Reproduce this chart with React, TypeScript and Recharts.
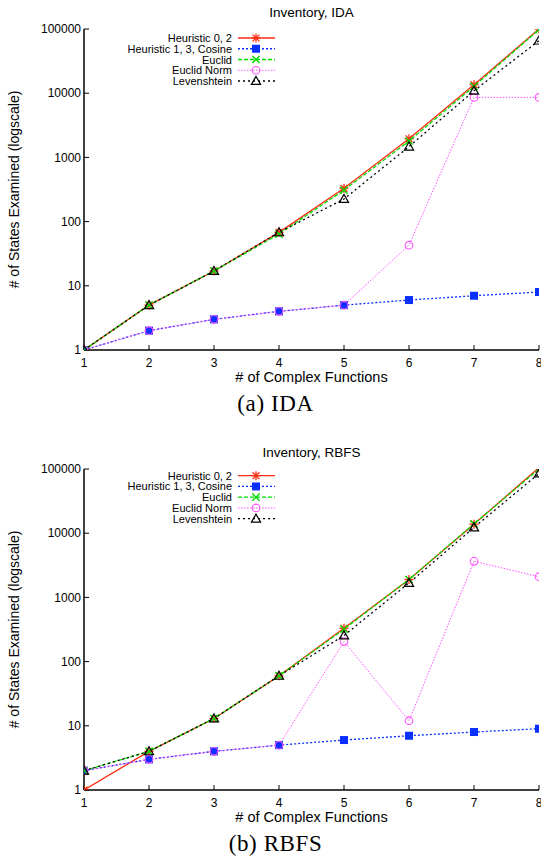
import React from 'react';
import { LineChart, Line, XAxis, YAxis, Legend } from 'recharts';

const xValues = [1, 2, 3, 4, 5, 6, 7, 8];
const xTicks = [1, 2, 3, 4, 5, 6, 7, 8];
const yMajorTicks = [1, 10, 100, 1000, 10000, 100000];
const yMinorTicks = [2, 5, 20, 50, 200, 500, 2000, 5000, 20000, 50000];

// (a) IDA
const idaHeuristic02 = [1, 5, 17, 68, 330, 1950, 13500, 100000];
const idaHeuristic13 = [1, 2, 3, 4, 5, 6, 7, 8];
const idaEuclid = [1, 5, 17, 64, 310, 1800, 12800, 98000];
const idaEuclidNorm = [1, 2, 3, 4, 5, 43, 8600, 8600];
const idaLevenshtein = [1, 5, 17, 68, 225, 1470, 10900, 66000];

// (b) RBFS
const rbfsHeuristic02 = [1, 4, 13, 60, 330, 1900, 13800, 105000];
const rbfsHeuristic13 = [2, 3, 4, 5, 6, 7, 8, 9];
const rbfsEuclid = [2, 4, 13, 60, 320, 1900, 14000, 100000];
const rbfsEuclidNorm = [2, 3, 4, 5, 205, 12, 3650, 2100];
const rbfsLevenshtein = [2, 4, 13, 60, 255, 1680, 12300, 85000];

const seriesKeys = ['h02', 'h13', 'euclid', 'norm', 'lev'];
const seriesLabels = ['Heuristic 0, 2', 'Heuristic 1, 3, Cosine', 'Euclid', 'Euclid Norm', 'Levenshtein'];
const seriesColors = ['#ff2a10', '#0a30ff', '#00dd00', '#ff50ff', '#000000'];
const seriesDash = ['', '2 2', '4 2', '1.5 1.5', '2 3'];
const seriesWidth = [1.3, 1.3, 1.3, 1, 1.3];
const seriesMarker = ['asterisk', 'square', 'cross', 'circle', 'triangle'];

const X_LABEL = '# of Complex Functions';
const Y_LABEL = '# of States Examined (logscale)';
const SANS = '"Liberation Sans", Arial, Helvetica, sans-serif';

function buildRows(a: number[], b: number[], c: number[], d: number[], e: number[]) {
  return xValues.map((x, i) => ({ x, h02: a[i], h13: b[i], euclid: c[i], norm: d[i], lev: e[i] }));
}

const idaData = buildRows(idaHeuristic02, idaHeuristic13, idaEuclid, idaEuclidNorm, idaLevenshtein);
const rbfsData = buildRows(rbfsHeuristic02, rbfsHeuristic13, rbfsEuclid, rbfsEuclidNorm, rbfsLevenshtein);

function Marker({ kind, cx, cy, color }: { kind: string; cx: number; cy: number; color: string }) {
  if (cx == null || cy == null || isNaN(cx) || isNaN(cy)) return <g />;
  switch (kind) {
    case 'asterisk': {
      const r = 4.5;
      const d = 3.4;
      return (
        <g stroke={color} strokeWidth={1.3} fill="none">
          <line x1={cx - r} y1={cy} x2={cx + r} y2={cy} />
          <line x1={cx} y1={cy - r} x2={cx} y2={cy + r} />
          <line x1={cx - d} y1={cy - d} x2={cx + d} y2={cy + d} />
          <line x1={cx - d} y1={cy + d} x2={cx + d} y2={cy - d} />
        </g>
      );
    }
    case 'square':
      return <rect x={cx - 4} y={cy - 4} width={8} height={8} fill={color} stroke="none" />;
    case 'cross': {
      const d = 3.6;
      return (
        <g stroke={color} strokeWidth={1.4} fill="none">
          <line x1={cx - d} y1={cy - d} x2={cx + d} y2={cy + d} />
          <line x1={cx - d} y1={cy + d} x2={cx + d} y2={cy - d} />
        </g>
      );
    }
    case 'circle':
      return <circle cx={cx} cy={cy} r={3.8} fill="none" stroke={color} strokeWidth={1.1} />;
    case 'triangle':
    default:
      return (
        <polygon
          points={`${cx},${cy - 4.6} ${cx - 4.6},${cy + 3.4} ${cx + 4.6},${cy + 3.4}`}
          fill="none"
          stroke={color}
          strokeWidth={1.2}
        />
      );
  }
}

function makeLegend(rowTop: number) {
  return () => (
    <svg width={300} height={100} style={{ display: 'block' }}>
      {seriesLabels.map((label, i) => {
        const y = rowTop + i * 10.75;
        return (
          <g key={label}>
            <text x={232} y={y} textAnchor="end" dominantBaseline="central" fontSize={11} fontFamily={SANS} fill="#000">
              {label}
            </text>
            <line
              x1={238}
              x2={275}
              y1={y}
              y2={y}
              stroke={seriesColors[i]}
              strokeWidth={seriesWidth[i]}
              strokeDasharray={seriesDash[i] || undefined}
            />
            <Marker kind={seriesMarker[i]} cx={256} cy={y} color={seriesColors[i]} />
          </g>
        );
      })}
    </svg>
  );
}

function Panel({ title, caption, data, legendTop }: { title: string; caption: string; data: any[]; legendTop: number }) {
  const plotCenterY = (29 + 350) / 2;
  return (
    <div style={{ position: 'relative', width: 541, height: 440 }}>
      <div style={{ position: 'absolute', left: 0, top: 0, width: 541, height: 384, overflow: 'hidden' }}>
        <LineChart width={541} height={384} data={data} margin={{ top: 29, right: 2, bottom: 0, left: 0 }}>
          <XAxis
            xAxisId="b"
            dataKey="x"
            type="number"
            domain={[1, 8]}
            ticks={xTicks}
            interval={0}
            allowDataOverflow
            height={34}
            axisLine={{ stroke: '#000', strokeWidth: 1.5 }}
            tickLine={{ stroke: '#000', strokeWidth: 1 }}
            tickSize={-5}
            tickMargin={13}
            tick={{ fontSize: 12, fill: '#000', fontFamily: SANS }}
            label={{ value: X_LABEL, position: 'insideBottom', offset: 2, fontSize: 14.5, fill: '#000', fontFamily: SANS }}
          />
          <XAxis
            xAxisId="t"
            dataKey="x"
            type="number"
            orientation="top"
            domain={[1, 8]}
            ticks={xTicks}
            interval={0}
            allowDataOverflow
            height={0}
            axisLine={{ stroke: '#000', strokeWidth: 1.5 }}
            tickLine={{ stroke: '#000', strokeWidth: 1 }}
            tickSize={-5}
            tick={false}
          />
          <YAxis
            yAxisId="l"
            type="number"
            scale="log"
            domain={[1, 100000]}
            allowDataOverflow
            ticks={yMajorTicks}
            interval={0}
            width={84}
            axisLine={{ stroke: '#000', strokeWidth: 1.5 }}
            tickLine={{ stroke: '#000', strokeWidth: 1 }}
            tickSize={-5}
            tickMargin={8}
            tick={{ fontSize: 12, fill: '#000', fontFamily: SANS }}
            label={{
              value: Y_LABEL,
              content: () => (
                <text
                  x={14}
                  y={plotCenterY}
                  transform={`rotate(-90 14 ${plotCenterY})`}
                  textAnchor="middle"
                  dominantBaseline="central"
                  fontSize={14}
                  fontFamily={SANS}
                  fill="#000"
                >
                  {Y_LABEL}
                </text>
              ),
            }}
          />
          <YAxis
            yAxisId="lm"
            type="number"
            scale="log"
            domain={[1, 100000]}
            allowDataOverflow
            ticks={yMinorTicks}
            interval={0}
            width={0}
            axisLine={false}
            tickLine={{ stroke: '#000', strokeWidth: 1 }}
            tickSize={-3}
            tick={false}
          />
          <YAxis
            yAxisId="r"
            orientation="right"
            type="number"
            scale="log"
            domain={[1, 100000]}
            allowDataOverflow
            ticks={yMajorTicks}
            interval={0}
            width={0}
            axisLine={{ stroke: '#000', strokeWidth: 1.5 }}
            tickLine={{ stroke: '#000', strokeWidth: 1 }}
            tickSize={-5}
            tick={false}
          />
          <YAxis
            yAxisId="rm"
            orientation="right"
            type="number"
            scale="log"
            domain={[1, 100000]}
            allowDataOverflow
            ticks={yMinorTicks}
            interval={0}
            width={0}
            axisLine={false}
            tickLine={{ stroke: '#000', strokeWidth: 1 }}
            tickSize={-3}
            tick={false}
          />
          <Legend
            layout="vertical"
            align="center"
            verticalAlign="middle"
            content={makeLegend(legendTop)}
            wrapperStyle={{ position: 'absolute', left: 0, top: 0, width: 300, height: 100 }}
          />
          {seriesKeys.map((k, i) => (
            <Line
              key={k}
              xAxisId="b"
              yAxisId="l"
              dataKey={k}
              name={seriesLabels[i]}
              type="linear"
              stroke={seriesColors[i]}
              strokeWidth={seriesWidth[i]}
              strokeDasharray={seriesDash[i] || undefined}
              isAnimationActive={false}
              dot={(p: any) => (
                <Marker key={`${k}-${p.index}`} kind={seriesMarker[i]} cx={p.cx} cy={p.cy} color={seriesColors[i]} />
              )}
              activeDot={false}
            />
          ))}
        </LineChart>
      </div>
      <div
        style={{
          position: 'absolute',
          left: 84,
          width: 455,
          top: 5,
          textAlign: 'center',
          fontFamily: SANS,
          fontSize: 13.5,
          lineHeight: '16px',
          color: '#000',
        }}
      >
        {title}
      </div>
      <div
        style={{
          position: 'absolute',
          left: 0,
          width: 551,
          top: 391,
          textAlign: 'center',
          fontFamily: '"Liberation Serif", "Times New Roman", serif',
          fontSize: 23,
          lineHeight: '26px',
          letterSpacing: '0.6px',
          color: '#000',
        }}
      >
        {caption}
      </div>
    </div>
  );
}

export default function App() {
  return (
    <div style={{ position: 'absolute', left: 0, top: 0, width: 541, height: 859, background: '#fff', overflow: 'hidden' }}>
      <Panel title="Inventory, IDA" caption="(a) IDA" data={idaData} legendTop={38} />
      <Panel title="Inventory, RBFS" caption="(b) RBFS" data={rbfsData} legendTop={35.7} />
    </div>
  );
}
